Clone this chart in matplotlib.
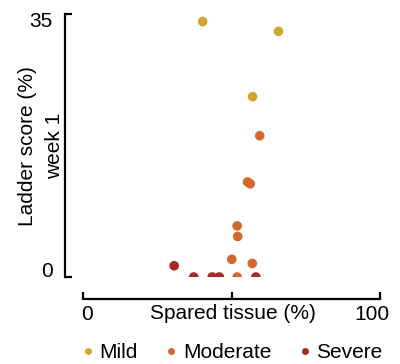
import matplotlib
matplotlib.use("Agg")
import matplotlib.pyplot as plt
from matplotlib.lines import Line2D

plt.rcParams['font.family'] = ['Liberation Sans', 'DejaVu Sans']

mild_x = [40.3, 65.8, 57.1]
mild_y = [34.0, 32.7, 24.0]
moderate_x = [59.5, 55.4, 56.3, 51.9, 52.1, 50.1, 57.0, 51.9]
moderate_y = [18.8, 12.65, 12.4, 6.8, 5.4, 2.35, 1.8, 0.0]
severe_x = [30.7, 37.3, 43.5, 45.9, 58.2]
severe_y = [1.5, 0.0, 0.0, 0.0, 0.0]

groups = ["Mild", "Moderate", "Severe"]
colors = ["#D4A433", "#D2692E", "#A8291F"]

x_ticks = [0, 50, 100]
x_label_pos = [1.4, 97.3]
x_tick_labels = ["0", "100"]
y_ticks = [0, 35]
y_label_pos = [1.0, 34.3]
y_tick_labels = ["0", "35"]

FS = 15

fig = plt.figure(figsize=(4.0, 3.64), dpi=100)
ax = fig.add_axes([0.2075, 0.239, 0.7425, 0.7225])

for xs, ys, c in zip([mild_x, moderate_x, severe_x], [mild_y, moderate_y, severe_y], colors):
    ax.scatter(xs, ys, s=48, color=c, edgecolors='none', zorder=3)

ax.set_xlim(0, 100)
ax.set_ylim(0, 35)

for s in ['top', 'right']:
    ax.spines[s].set_visible(False)
ax.spines['left'].set_position(('outward', 13))
ax.spines['bottom'].set_position(('outward', 16))
ax.spines['left'].set_linewidth(1.6)
ax.spines['bottom'].set_linewidth(1.6)

ax.set_xticks(x_ticks)
ax.set_xticklabels([])
ax.set_xticks(x_label_pos, minor=True)
ax.set_xticklabels(x_tick_labels, minor=True)
ax.set_yticks(y_ticks)
ax.set_yticklabels([])
ax.set_yticks(y_label_pos, minor=True)
ax.set_yticklabels(y_tick_labels, minor=True)

ax.tick_params(axis='both', which='major', direction='in', length=5, width=1.6)
ax.tick_params(axis='both', which='minor', length=0, labelsize=FS)
ax.tick_params(axis='x', which='minor', pad=4)
ax.tick_params(axis='y', which='minor', pad=9)

ax.set_xlabel("Spared tissue (%)", fontsize=FS)
ax.xaxis.set_label_coords(0.505, -0.104)

fig.text(41 / 400, 1 - 146 / 364, "Ladder score (%)\nweek 1", rotation=90,
         ha='center', va='center', fontsize=FS, linespacing=1.5, multialignment='center')

handles = [Line2D([], [], marker='o', linestyle='none', markersize=5, color=c,
                  markeredgewidth=0) for c in colors]
fig.legend(handles, groups, loc='center', bbox_to_anchor=(0.575, 1 - 353 / 364), ncol=3,
           frameon=False, fontsize=FS, handletextpad=0.05, columnspacing=1.1,
           handlelength=1.0, borderpad=0, borderaxespad=0)

fig.savefig("out.png", dpi=100)
